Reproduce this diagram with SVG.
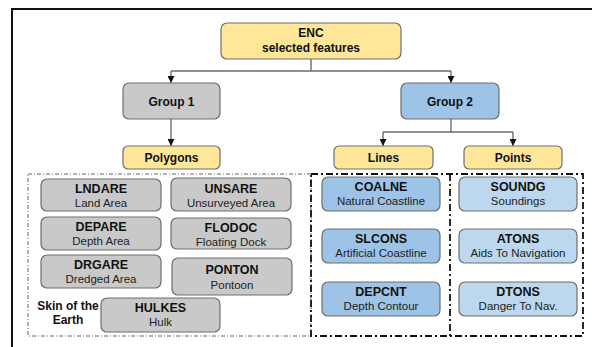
<svg xmlns="http://www.w3.org/2000/svg" width="592" height="347" viewBox="0 0 592 347">
<defs>
<marker id="ah" viewBox="0 0 8 8" refX="8" refY="4" markerWidth="7" markerHeight="7" markerUnits="userSpaceOnUse" orient="auto">
<path d="M0,0 L8,4 L0,8 Z" fill="#111"/>
</marker>
<style>
.box{stroke:#6e6e6e;stroke-width:1.2}
.y{fill:#FFE699}
.g{fill:#C9C9C9}
.b{fill:#9DC3E6}
.lb{fill:#BDD7EE}
.t{font-family:"Liberation Sans",Arial,sans-serif;font-weight:bold;font-size:12px;fill:#111;text-anchor:middle}
.n{font-family:"Liberation Sans",Arial,sans-serif;font-weight:bold;font-size:12.5px;fill:#111;text-anchor:middle}
.s{font-family:"Liberation Sans",Arial,sans-serif;font-size:11.5px;fill:#222;text-anchor:middle}
.c{fill:none;stroke:#6b6b6b;stroke-width:1.4}
</style>
</defs>
<rect width="592" height="347" fill="#fff"/>
<path d="M12,347 L12,9 L592,9" fill="none" stroke="#111" stroke-width="2"/>
<g id="regions">
<rect x="28" y="174" width="283" height="162" fill="none" stroke="#555" stroke-width="0.9" stroke-dasharray="4 2 1 2"/>
<rect x="311" y="174" width="272" height="162" fill="none" stroke="#111" stroke-width="1.8" stroke-dasharray="7 3 2 3"/>
<line x1="450" y1="174" x2="450" y2="336" stroke="#111" stroke-width="1.8" stroke-dasharray="7 3 2 3"/>
</g>
<g id="connectors">
<path class="c" d="M311,59 L311,71"/>
<path class="c" d="M171,71 L451,71"/>
<path class="c" d="M171,71 L171,83" marker-end="url(#ah)"/>
<path class="c" d="M451,71 L451,83" marker-end="url(#ah)"/>
<path class="c" d="M171,119 L171,146" marker-end="url(#ah)"/>
<path class="c" d="M451,119 L451,132"/>
<path class="c" d="M383,132 L513,132"/>
<path class="c" d="M383,132 L383,146" marker-end="url(#ah)"/>
<path class="c" d="M513,132 L513,146" marker-end="url(#ah)"/>
</g>
<g id="enc"><rect class="box y" x="221" y="23" width="180" height="36" rx="6"/><text class="t" x="311" y="37">ENC</text><text class="t" x="311" y="52">selected features</text></g>
<g id="group1"><rect class="box g" x="123" y="83" width="97" height="36" rx="6"/><text class="t" x="171.5" y="106">Group 1</text></g>
<g id="group2"><rect class="box b" x="401" y="83" width="98" height="36" rx="6"/><text class="t" x="450" y="106">Group 2</text></g>
<g id="polygons"><rect class="box y" x="123" y="146" width="97" height="23" rx="5"/><text class="t" x="171.5" y="161.5">Polygons</text></g>
<g id="lines"><rect class="box y" x="334" y="146" width="99" height="23" rx="5"/><text class="t" x="383.5" y="161.5">Lines</text></g>
<g id="points"><rect class="box y" x="464" y="146" width="98" height="23" rx="5"/><text class="t" x="513" y="161.5">Points</text></g>
<g id="lndare"><rect class="box g" x="41" y="179" width="120" height="32" rx="6"/><text class="n" x="101" y="193">LNDARE</text><text class="s" x="101" y="207">Land Area</text></g>
<g id="unsare"><rect class="box g" x="171" y="178" width="120" height="33" rx="6"/><text class="n" x="231" y="192.5">UNSARE</text><text class="s" x="231" y="206.5">Unsurveyed Area</text></g>
<g id="depare"><rect class="box g" x="41" y="217" width="120" height="33" rx="6"/><text class="n" x="101" y="231">DEPARE</text><text class="s" x="101" y="245">Depth Area</text></g>
<g id="flodoc"><rect class="box g" x="171" y="218" width="120" height="31" rx="6"/><text class="n" x="231" y="232">FLODOC</text><text class="s" x="231" y="245.5">Floating Dock</text></g>
<g id="drgare"><rect class="box g" x="41" y="255" width="120" height="33" rx="6"/><text class="n" x="101" y="269">DRGARE</text><text class="s" x="101" y="283">Dredged Area</text></g>
<g id="ponton"><rect class="box g" x="172" y="258" width="120" height="37" rx="6"/><text class="n" x="232" y="274">PONTON</text><text class="s" x="232" y="288.5">Pontoon</text></g>
<g id="hulkes"><rect class="box g" x="101" y="298" width="119" height="34" rx="6"/><text class="n" x="160.5" y="312">HULKES</text><text class="s" x="160.5" y="326">Hulk</text></g>
<g id="skin"><text class="t" x="68" y="310">Skin of the</text><text class="t" x="68" y="324">Earth</text></g>
<g id="coalne"><rect class="box b" x="322" y="177" width="118" height="34" rx="6"/><text class="n" x="381" y="191">COALNE</text><text class="s" x="381" y="205">Natural Coastline</text></g>
<g id="slcons"><rect class="box b" x="322" y="229" width="118" height="34" rx="6"/><text class="n" x="381" y="243">SLCONS</text><text class="s" x="381" y="257">Artificial Coastline</text></g>
<g id="depcnt"><rect class="box b" x="322" y="282" width="118" height="34" rx="6"/><text class="n" x="381" y="296">DEPCNT</text><text class="s" x="381" y="310">Depth Contour</text></g>
<g id="soundg"><rect class="box lb" x="459" y="177" width="118" height="34" rx="6"/><text class="n" x="518" y="191">SOUNDG</text><text class="s" x="518" y="205">Soundings</text></g>
<g id="atons"><rect class="box lb" x="459" y="229" width="118" height="34" rx="6"/><text class="n" x="518" y="243">ATONS</text><text class="s" x="518" y="257">Aids To Navigation</text></g>
<g id="dtons"><rect class="box lb" x="459" y="282" width="118" height="34" rx="6"/><text class="n" x="518" y="296">DTONS</text><text class="s" x="518" y="310">Danger To Nav.</text></g>
</svg>
